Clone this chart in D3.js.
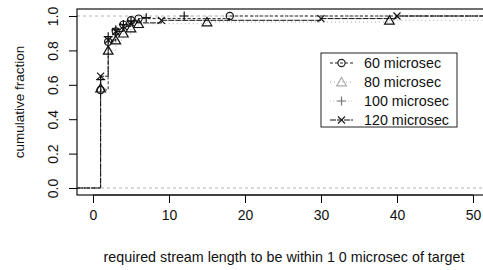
<!DOCTYPE html>
<html><head><meta charset="utf-8">
<script src="https://cdn.jsdelivr.net/npm/d3@7"></script>
<style>body{margin:0;background:#fff}text{font-family:"Liberation Sans",Arial,sans-serif}</style>
</head><body><svg id="c" width="483" height="270"></svg>
<script>
const xTicks=[0,10,20,30,40,50];
const yTicks=[0,0.2,0.4,0.6,0.8,1.0];
const seriesNames=["60 microsec","80 microsec","100 microsec","120 microsec"];
const s60x=[1,2,3,4,5,6,18];
const s60y=[0.57,0.85,0.91,0.95,0.975,0.985,1.0];
const s80x=[1,2,3,4,5,6,15,39];
const s80y=[0.58,0.80,0.86,0.90,0.93,0.955,0.965,0.975];
const s100x=[1,2,3,4,5,7,12];
const s100y=[0.63,0.88,0.92,0.95,0.97,0.99,1.0];
const s120x=[1,2,3,4,5,9,30,40];
const s120y=[0.65,0.86,0.91,0.94,0.96,0.975,0.985,1.0];

const svg=d3.select("#c");
const L=77,R=490,T=9,B=195;
const x=d3.scaleLinear().domain([0,50]).range([93,473]);
const y=d3.scaleLinear().domain([0,1]).range([188,16]);
const xmin=x.invert(L), xmax=x.invert(R);

const styles=[
 {stroke:"#222",dash:"3,2",sym:"circle",sw:1},
 {stroke:"#aaa",dash:"1,3",sym:"triangle",sw:1},
 {stroke:"#bbb",dash:"1,2",sym:"plus",sw:0.8},
 {stroke:"#111",dash:"6,1",sym:"x",sw:1}
];
const data=[[s60x,s60y],[s80x,s80y],[s100x,s100y],[s120x,s120y]];

const g=svg.append("g");
[0,1].forEach(v=>g.append("line").attr("x1",L).attr("x2",R).attr("y1",y(v)).attr("y2",y(v))
  .attr("stroke","#b3b3b3").attr("stroke-dasharray","3,3"));

function sym(sel,type,cx,cy,col){
  if(type==="circle") sel.append("circle").attr("cx",cx).attr("cy",cy).attr("r",3.6).attr("fill","none").attr("stroke",col).attr("stroke-width",1.2);
  else if(type==="triangle") sel.append("path").attr("d",d3.symbol(d3.symbolTriangle,40)()).attr("transform",`translate(${cx},${cy+1})`).attr("fill","none").attr("stroke",col).attr("stroke-width",1.2);
  else if(type==="plus") sel.append("path").attr("d",`M${cx-4.5},${cy}H${cx+4.5}M${cx},${cy-4.5}V${cy+4.5}`).attr("stroke",col).attr("stroke-width",1.2);
  else sel.append("path").attr("d",`M${cx-3.5},${cy-3.5}L${cx+3.5},${cy+3.5}M${cx-3.5},${cy+3.5}L${cx+3.5},${cy-3.5}`).attr("stroke",col).attr("stroke-width",1.2);
}

const line=d3.line().x(d=>x(d[0])).y(d=>y(d[1])).curve(d3.curveStepAfter);
data.forEach(([xs,ys],i)=>{
  const st=styles[i];
  const p2=[[xmin,0],[xs[0],0]].concat(xs.map((v,j)=>[v,ys[j]])).concat([[xmax,ys[ys.length-1]]]);
  g.append("path").attr("d",line(p2)).attr("fill","none").attr("stroke",st.stroke)
   .attr("stroke-width",st.sw).attr("stroke-dasharray",st.dash);
});
data.forEach(([xs,ys],i)=>{
  const st=styles[i];
  xs.forEach((v,j)=>sym(g,st.sym,x(v),y(ys[j]),"#111"));
});

svg.append("rect").attr("x",L).attr("y",T).attr("width",R-L).attr("height",B-T).attr("fill","none").attr("stroke","#111").attr("stroke-width",1.2);

const xa=svg.append("g").attr("transform",`translate(0,${B})`).call(d3.axisBottom(x).tickValues(xTicks).tickSize(8).tickPadding(7).tickFormat(d3.format("d")));
xa.select(".domain").attr("d",`M${x(0)},0H${x(50)}`).attr("stroke","#111");
xa.selectAll("text").attr("font-size",14).attr("fill","#111");
const ya=svg.append("g").attr("transform",`translate(${L},0)`).call(d3.axisLeft(y).tickValues(yTicks).tickSize(8).tickFormat(d3.format(".1f")));
ya.select(".domain").remove();
ya.selectAll(".tick text").attr("transform","rotate(-90)").attr("x",0).attr("y",-19).attr("dy",0).attr("text-anchor","middle").attr("font-size",14).attr("fill","#111");

svg.append("text").attr("transform","translate(24,102) rotate(-90)").attr("text-anchor","middle").attr("font-size",13.5).attr("fill","#111").text("cumulative fraction");
svg.append("text").attr("x",284).attr("y",262).attr("text-anchor","middle").attr("font-size",14.3).attr("fill","#111").text("required stream length to be within 1 0 microsec of target");

const lg=svg.append("g");
lg.append("rect").attr("x",321).attr("y",53).attr("width",136).attr("height",74).attr("fill","#fff").attr("stroke","#222");
seriesNames.forEach((n,i)=>{
  const cy=63+i*19, st=styles[i];
  lg.append("line").attr("x1",330).attr("x2",353).attr("y1",cy).attr("y2",cy).attr("stroke",st.stroke).attr("stroke-width",st.sw).attr("stroke-dasharray",st.dash);
  sym(lg,st.sym,341.5,cy,i===1?"#aaa":(i===2?"#777":"#222"));
  lg.append("text").attr("x",364).attr("y",cy+5).attr("font-size",14.3).attr("fill","#111").text(n);
});
</script></body></html>
